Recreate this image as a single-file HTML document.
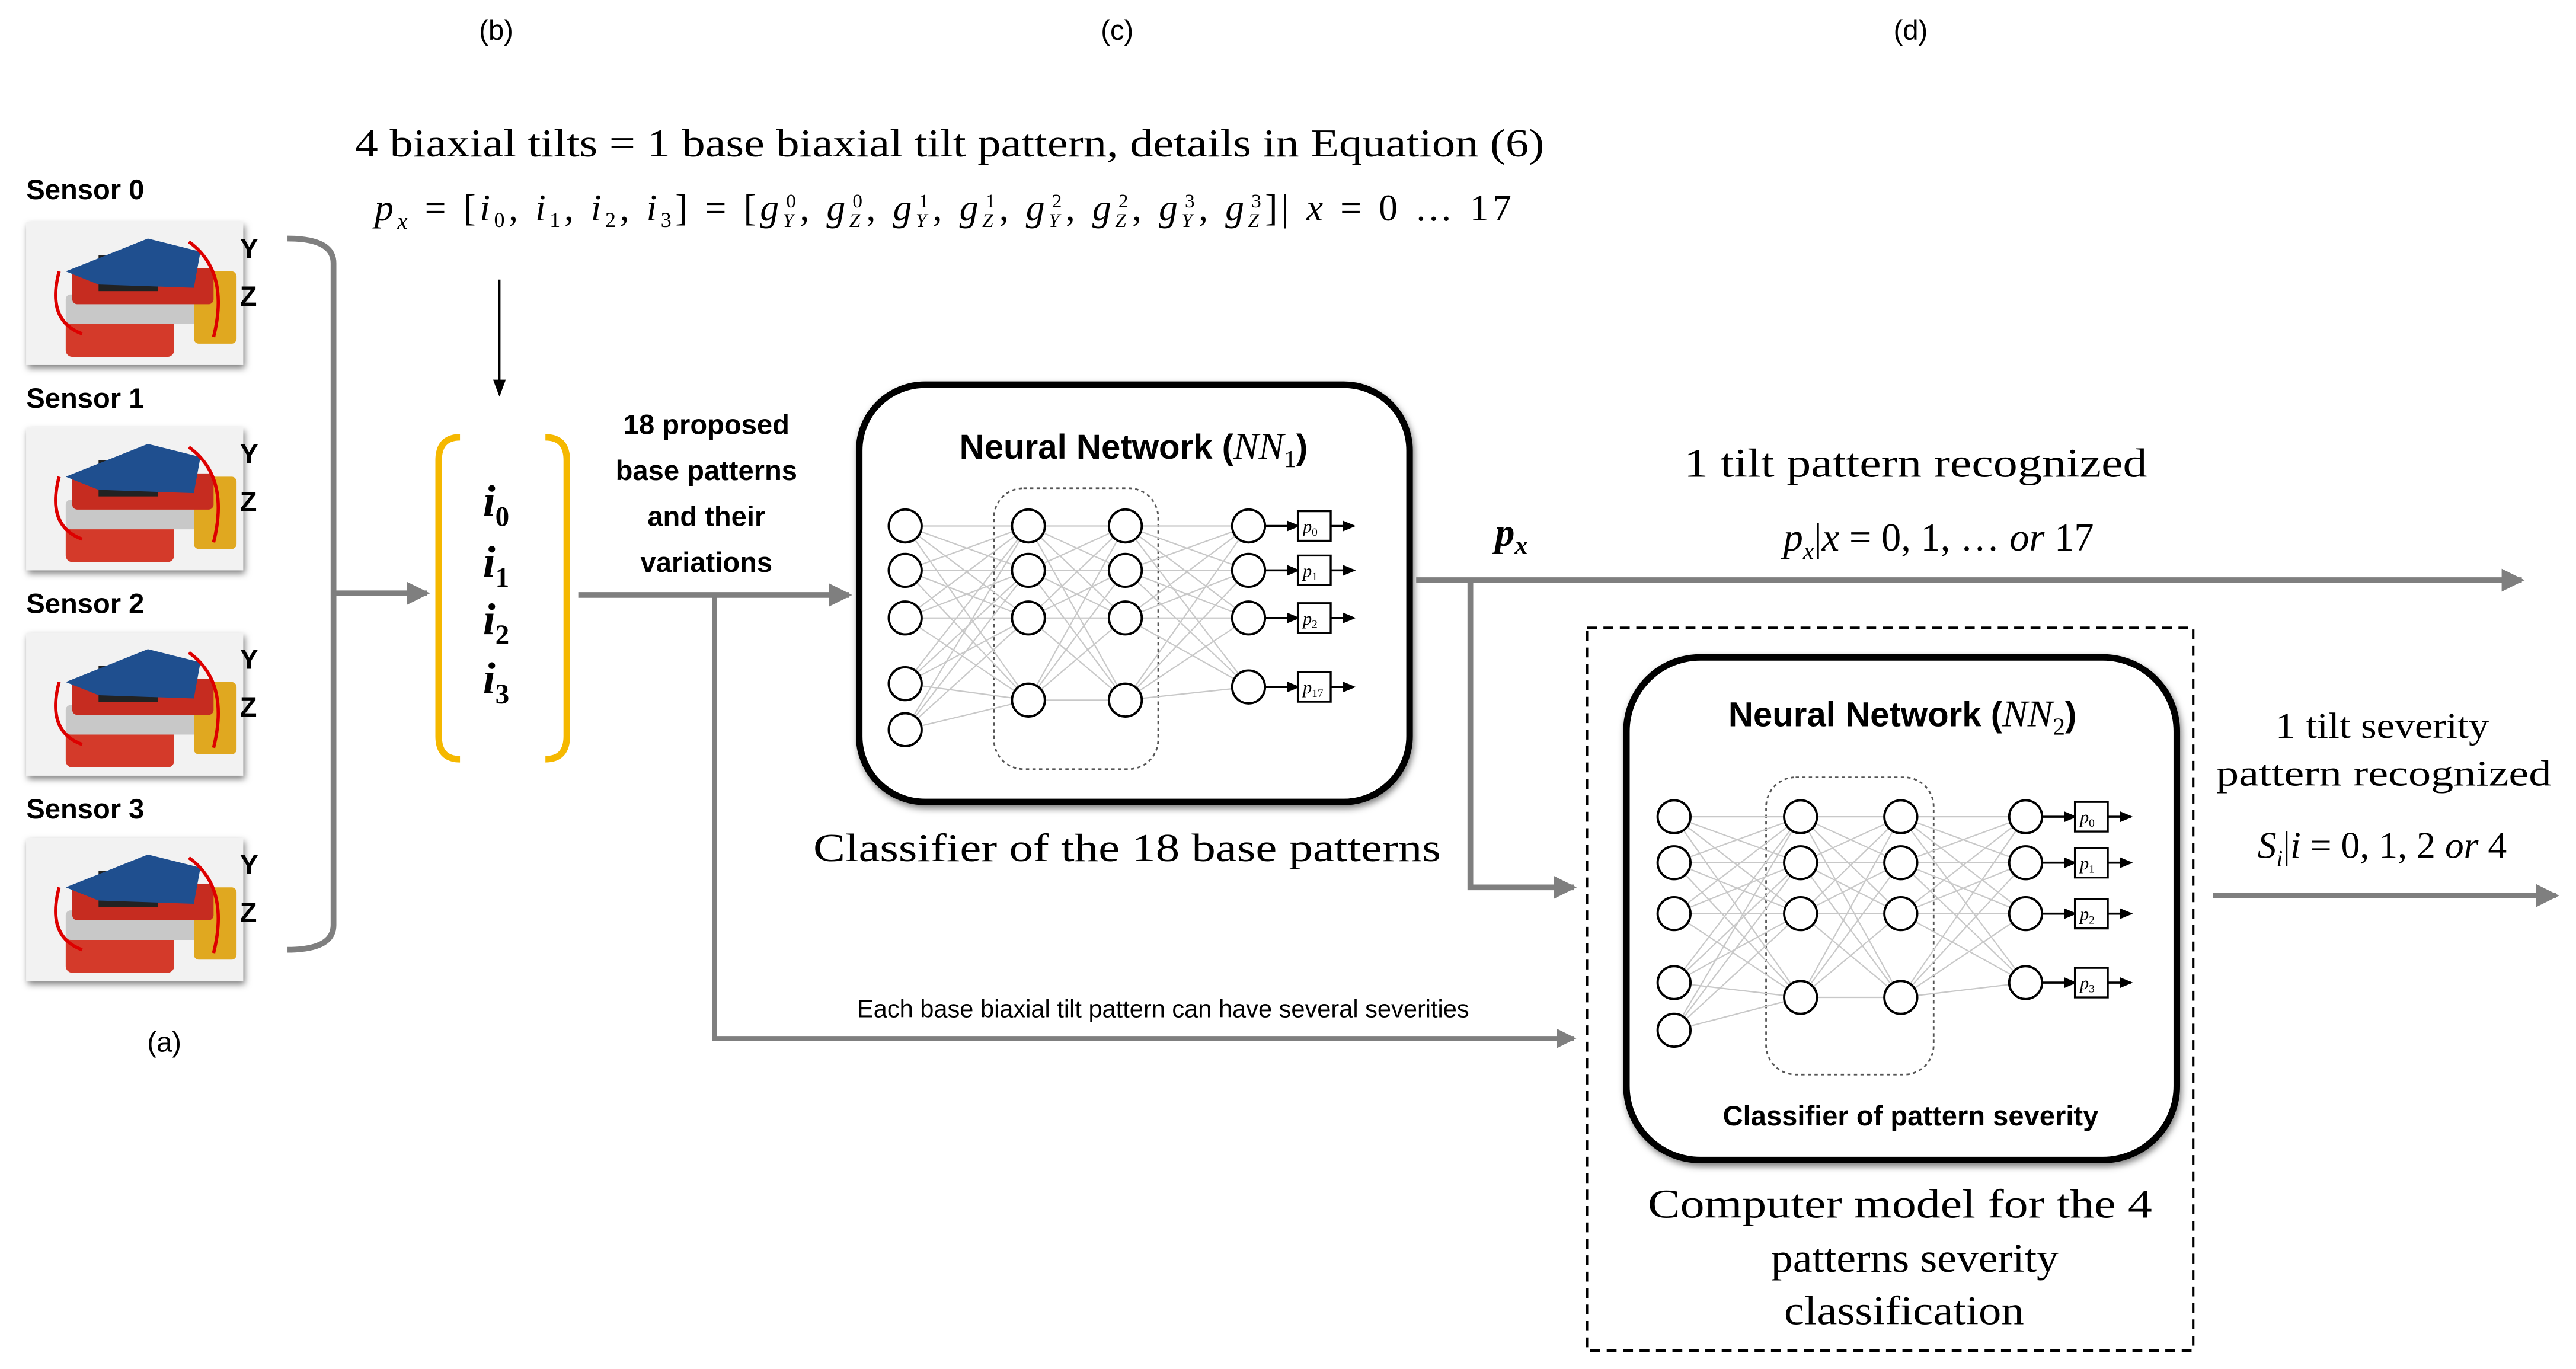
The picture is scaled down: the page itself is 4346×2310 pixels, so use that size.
<!DOCTYPE html>
<html><head><meta charset="utf-8"><style>
html,body{margin:0;padding:0;background:#fff;overflow:hidden}
svg{display:block}
.s{font-family:"Liberation Serif",serif}
.b{font-family:"Liberation Sans",sans-serif;font-weight:bold}
</style></head><body>
<svg id="svg" width="4346" height="2310" viewBox="0 0 1568 833" xmlns="http://www.w3.org/2000/svg">
<defs>
<marker id="ag" markerWidth="4" markerHeight="4" refX="3.5" refY="2" orient="auto" markerUnits="strokeWidth"><path d="M0,0 L4,2 L0,4z" fill="#7f7f7f"/></marker>
<marker id="ak" markerWidth="8" markerHeight="8" refX="7" refY="4" orient="auto" markerUnits="strokeWidth"><path d="M0,1 L8,4 L0,7z" fill="#000"/></marker>
<marker id="as" markerWidth="6" markerHeight="6" refX="5" refY="3" orient="auto" markerUnits="strokeWidth"><path d="M0,0.5 L6,3 L0,5.5z" fill="#000"/></marker>
<filter id="sh"><feDropShadow dx="1" dy="2" stdDeviation="2" flood-opacity="0.5"/></filter>
</defs>
<g font-family="Liberation Sans" font-size="17" text-anchor="middle">
<text x="302" y="24">(b)</text>
<text x="680" y="24">(c)</text>
<text x="1163" y="24">(d)</text>
<text x="100" y="640">(a)</text>
</g>
<text class="s" x="216" y="95" font-size="24" textLength="724" lengthAdjust="spacingAndGlyphs">4 biaxial tilts = 1 base biaxial tilt pattern, details in Equation (6)</text>
<text class="s" x="228" y="134" font-size="23" textLength="692" lengthAdjust="spacing"><tspan font-style="italic">p</tspan><tspan font-size="14" dy="5" font-style="italic">x</tspan><tspan dy="-5"> = [</tspan><tspan font-style="italic">i</tspan><tspan font-size="13" dy="4">0</tspan><tspan dy="-4">, </tspan><tspan font-style="italic">i</tspan><tspan font-size="13" dy="4">1</tspan><tspan dy="-4">, </tspan><tspan font-style="italic">i</tspan><tspan font-size="13" dy="4">2</tspan><tspan dy="-4">, </tspan><tspan font-style="italic">i</tspan><tspan font-size="13" dy="4">3</tspan><tspan dy="-4">] =  [</tspan><tspan font-style="italic">g</tspan><tspan font-size="12" dy="4" font-style="italic">Y</tspan><tspan font-size="12" dy="-12" dx="-7">0</tspan><tspan dy="8">, </tspan><tspan font-style="italic">g</tspan><tspan font-size="12" dy="4" font-style="italic">Z</tspan><tspan font-size="12" dy="-12" dx="-7">0</tspan><tspan dy="8">, </tspan><tspan font-style="italic">g</tspan><tspan font-size="12" dy="4" font-style="italic">Y</tspan><tspan font-size="12" dy="-12" dx="-7">1</tspan><tspan dy="8">, </tspan><tspan font-style="italic">g</tspan><tspan font-size="12" dy="4" font-style="italic">Z</tspan><tspan font-size="12" dy="-12" dx="-7">1</tspan><tspan dy="8">, </tspan><tspan font-style="italic">g</tspan><tspan font-size="12" dy="4" font-style="italic">Y</tspan><tspan font-size="12" dy="-12" dx="-7">2</tspan><tspan dy="8">, </tspan><tspan font-style="italic">g</tspan><tspan font-size="12" dy="4" font-style="italic">Z</tspan><tspan font-size="12" dy="-12" dx="-7">2</tspan><tspan dy="8">, </tspan><tspan font-style="italic">g</tspan><tspan font-size="12" dy="4" font-style="italic">Y</tspan><tspan font-size="12" dy="-12" dx="-7">3</tspan><tspan dy="8">, </tspan><tspan font-style="italic">g</tspan><tspan font-size="12" dy="4" font-style="italic">Z</tspan><tspan font-size="12" dy="-12" dx="-7">3</tspan><tspan dy="8">]| </tspan><tspan font-style="italic">x</tspan><tspan> = 0 … 17</tspan></text>
<line x1="304" y1="170" x2="304" y2="240" stroke="#000" stroke-width="1.3" marker-end="url(#ak)"/>
<g id="sensors"></g>
<path d="M175,145 Q203,145 203,160 L203,563 Q203,578 175,578" fill="none" stroke="#7f7f7f" stroke-width="3.5"/>
<line x1="203" y1="361" x2="260" y2="361" stroke="#7f7f7f" stroke-width="3.5" marker-end="url(#ag)"/>
<path d="M280,266 Q267,266 267,280 L267,448 Q267,462 280,462" fill="none" stroke="#f5b800" stroke-width="4"/>
<path d="M332,266 Q345,266 345,280 L345,448 Q345,462 332,462" fill="none" stroke="#f5b800" stroke-width="4"/>
<g class="s" font-size="27" font-weight="bold" font-style="italic" text-anchor="middle">
<text x="302" y="314">i<tspan font-size="17" dy="6" font-style="normal">0</tspan></text>
<text x="302" y="351">i<tspan font-size="17" dy="6" font-style="normal">1</tspan></text>
<text x="302" y="386">i<tspan font-size="17" dy="6" font-style="normal">2</tspan></text>
<text x="302" y="422">i<tspan font-size="17" dy="6" font-style="normal">3</tspan></text>
</g>
<g class="b" font-size="17" text-anchor="middle">
<text x="430" y="264">18 proposed</text><text x="430" y="292">base patterns</text><text x="430" y="320">and their</text><text x="430" y="348">variations</text>
</g>
<line x1="352" y1="362" x2="517" y2="362" stroke="#7f7f7f" stroke-width="3.5" marker-end="url(#ag)"/>
<polyline points="435,362 435,632 958,632" fill="none" stroke="#7f7f7f" stroke-width="3" marker-end="url(#ag)"/>
<text x="708" y="619" font-family="Liberation Sans" font-size="15" text-anchor="middle">Each  base biaxial tilt pattern can have several severities</text>
<rect x="523" y="234" width="335" height="254" rx="40" fill="#fff" stroke="#000" stroke-width="4" filter="url(#sh)"/>
<text class="b" x="690" y="279" font-size="21" text-anchor="middle">Neural Network (<tspan class="s" font-style="italic" font-weight="normal" font-size="23">NN</tspan><tspan class="s" font-weight="normal" font-size="15" dy="5">1</tspan><tspan dy="-5">)</tspan></text>
<g id="nn1"></g>
<text class="s" x="495" y="524" font-size="24" textLength="382" lengthAdjust="spacingAndGlyphs">Classifier of the 18 base patterns</text>
<text class="s" x="920" y="332" font-size="24" font-weight="bold" font-style="italic" text-anchor="middle">p<tspan font-size="16" dy="5">x</tspan></text>
<line x1="862" y1="353" x2="1535" y2="353" stroke="#7f7f7f" stroke-width="3.5" marker-end="url(#ag)"/>
<polyline points="895,353 895,540 958,540" fill="none" stroke="#7f7f7f" stroke-width="3.5" marker-end="url(#ag)"/>
<text class="s" x="1025" y="290" font-size="25" textLength="282" lengthAdjust="spacingAndGlyphs">1 tilt pattern recognized</text>
<text class="s" x="1180" y="335" font-size="24" text-anchor="middle"><tspan font-style="italic">p</tspan><tspan font-size="15" dy="5" font-style="italic">x</tspan><tspan dy="-5">|</tspan><tspan font-style="italic">x</tspan> =  0, 1, … <tspan font-style="italic">or</tspan> 17</text>
<rect x="966" y="382" width="369" height="440" fill="none" stroke="#000" stroke-width="1.5" stroke-dasharray="6,4"/>
<rect x="990" y="400" width="335" height="306" rx="45" fill="#fff" stroke="#000" stroke-width="4" filter="url(#sh)"/>
<text class="b" x="1158" y="442" font-size="21" text-anchor="middle">Neural Network (<tspan class="s" font-style="italic" font-weight="normal" font-size="23">NN</tspan><tspan class="s" font-weight="normal" font-size="15" dy="5">2</tspan><tspan dy="-5">)</tspan></text>
<g id="nn2"></g>
<text class="b" x="1163" y="685" font-size="17" text-anchor="middle">Classifier of pattern severity</text>
<g class="s" font-size="25">
<text x="1003" y="741" textLength="307" lengthAdjust="spacingAndGlyphs">Computer model for the 4</text>
<text x="1078" y="774" textLength="175" lengthAdjust="spacingAndGlyphs">patterns severity</text>
<text x="1086" y="806" textLength="146" lengthAdjust="spacingAndGlyphs">classification</text>
<text x="1385" y="449" font-size="22" textLength="130" lengthAdjust="spacingAndGlyphs">1 tilt severity</text>
<text x="1349" y="478" font-size="22" textLength="204" lengthAdjust="spacingAndGlyphs">pattern recognized</text>
<text x="1450" y="522" font-size="23" text-anchor="middle"><tspan font-style="italic">S</tspan><tspan font-size="14" dy="5" font-style="italic">i</tspan><tspan dy="-5">|</tspan><tspan font-style="italic">i</tspan> =  0, 1, 2 <tspan font-style="italic">or</tspan> 4</text>
</g>
<line x1="1347" y1="545" x2="1556" y2="545" stroke="#7f7f7f" stroke-width="3.5" marker-end="url(#ag)"/>
</svg>
<script>
const NS="http://www.w3.org/2000/svg";
function el(p,t,a,txt){const e=document.createElementNS(NS,t);for(const k in a)e.setAttribute(k,a[k]);if(txt!==undefined)e.textContent=txt;p.appendChild(e);return e;}
const sg=document.getElementById('sensors');
[[115,135],[242,260],[367,385],[492,510]].forEach((v,i)=>{
 const [ly,iy]=v;
 el(sg,'text',{x:16,y:ly+6,'font-family':'Liberation Sans','font-weight':'bold','font-size':17},'Sensor '+i);
 const g=el(sg,'g',{});
 el(g,'rect',{x:16,y:iy,width:132,height:87,fill:'#f2f2f2',filter:'url(#sh)'});
 el(g,'rect',{x:40,y:iy+58,width:66,height:24,rx:4,fill:'#d43a2a'});
 el(g,'rect',{x:40,y:iy+44,width:96,height:18,rx:3,fill:'#c8c8c8'});
 el(g,'rect',{x:118,y:iy+30,width:26,height:44,rx:3,fill:'#e0a820'});
 el(g,'rect',{x:44,y:iy+28,width:86,height:22,rx:3,fill:'#c62c20'});
 el(g,'rect',{x:60,y:iy+20,width:36,height:22,fill:'#222'});
 el(g,'path',{d:`M40,${iy+30} L90,${iy+10} L122,${iy+18} L118,${iy+40} L60,${iy+38} Z`,fill:'#1f4f8f'});
 el(g,'path',{d:`M36,${iy+30} Q28,${iy+60} 50,${iy+68}`,fill:'none',stroke:'#d00',"stroke-width":2});
 el(g,'path',{d:`M115,${iy+12} Q140,${iy+30} 130,${iy+70}`,fill:'none',stroke:'#d00',"stroke-width":2});
 el(sg,'text',{x:146,y:iy+22,'font-family':'Liberation Sans','font-weight':'bold','font-size':17},'Y');
 el(sg,'text',{x:146,y:iy+51,'font-family':'Liberation Sans','font-weight':'bold','font-size':17},'Z');
});
function nn(gid,cols,rows,box,labels,r){
 const g=document.getElementById(gid);
 el(g,'rect',box);
 for(let c=0;c<3;c++)for(const a of rows[c])for(const b of rows[c+1])
  el(g,'line',{x1:cols[c],y1:a,x2:cols[c+1],y2:b,stroke:'#c8c8c8','stroke-width':0.8});
 rows.forEach((rs,c)=>rs.forEach(y=>el(g,'circle',{cx:cols[c],cy:y,r:r,fill:'#fff',stroke:'#000','stroke-width':1.4})));
 rows[3].forEach((y,i)=>{
  const bx=cols[3]+30;
  el(g,'line',{x1:cols[3]+r,y1:y,x2:bx,y2:y,stroke:'#000','stroke-width':1.3,'marker-end':'url(#as)'});
  el(g,'rect',{x:bx,y:y-9,width:20,height:18,fill:'#fff',stroke:'#000','stroke-width':1.2});
  const t=el(g,'text',{x:bx+3,y:y+4,'font-family':'Liberation Serif','font-size':11,'font-style':'italic'},'p');
  el(t,'tspan',{'font-size':7,dy:2,'font-style':'normal'},labels[i]);
  el(g,'line',{x1:bx+20,y1:y,x2:bx+34,y2:y,stroke:'#000','stroke-width':1.3,'marker-end':'url(#as)'});
 });
}
nn('nn1',[551,626,685,760],[[320,347,376,416,444],[320,347,376,426],[320,347,376,426],[320,347,376,418]],
 {x:605,y:297,width:100,height:171,rx:18,fill:'none',stroke:'#555','stroke-width':1,'stroke-dasharray':'2,2'},['0','1','2','17'],10);
nn('nn2',[1019,1096,1157,1233],[[497,525,556,598,627],[497,525,556,607],[497,525,556,607],[497,525,556,598]],
 {x:1075,y:473,width:102,height:181,rx:18,fill:'none',stroke:'#555','stroke-width':1,'stroke-dasharray':'2,2'},['0','1','2','3'],10);
</script>
</body></html>
